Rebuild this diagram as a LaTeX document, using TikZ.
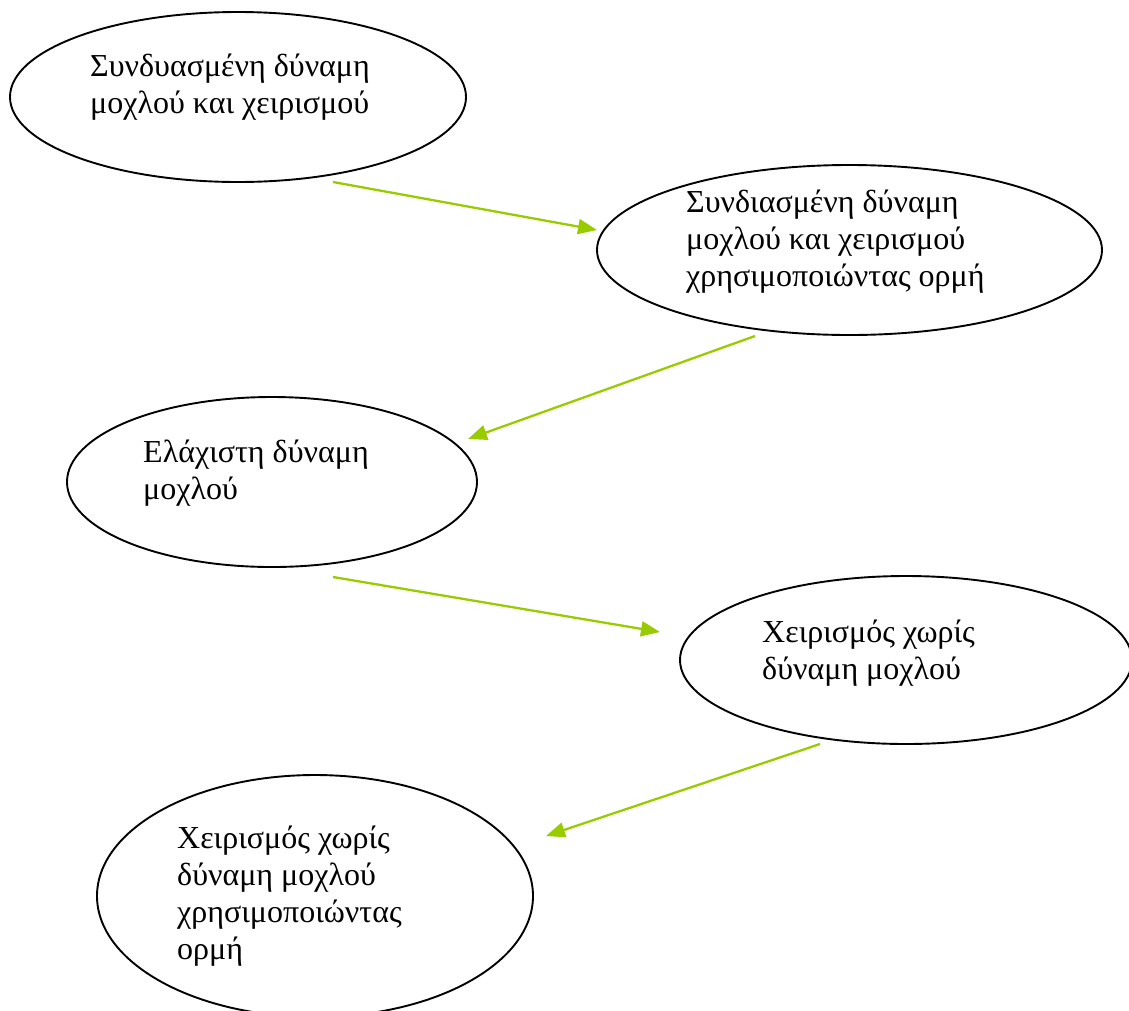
\documentclass[tikz,border=0pt]{standalone}
\usepackage{fontspec}
\setmainfont{Liberation Serif}
\usetikzlibrary{shapes.geometric,arrows.meta,calc}
\definecolor{leafgreen}{RGB}{153,204,0}
\begin{document}
\begin{tikzpicture}[x=1pt,y=-1pt,
  bubble/.style={ellipse,draw=black,line width=1.9pt,inner sep=0pt},
  bubbletext/.style={anchor=base west,inner sep=0pt,font=\fontsize{32}{37}\selectfont},
  flow/.style={draw=leafgreen,line width=2.3pt,-{Triangle[length=19pt,width=15pt]}}]
\useasboundingbox (0,0) rectangle (1129,1010);

% stages of the technique, drawn as ellipses
\node[bubble,minimum width=456pt,minimum height=170pt] (e1) at (238,97) {};
\node[bubble,minimum width=505pt,minimum height=170pt] (e2) at (849.5,250) {};
\node[bubble,minimum width=410pt,minimum height=170pt] (e3) at (272,482) {};
\node[bubble,minimum width=452pt,minimum height=168pt] (e4) at (906,660) {};
\node[bubble,minimum width=436pt,minimum height=242pt] (e5) at (315,896) {};

% their captions, set flush left
\node[bubbletext] (t1) at (90,76) {\begin{tabular}[t]{@{}l@{}}Συνδυασμένη δύναμη\\ μοχλού και χειρισμού\end{tabular}};
\node[bubbletext] (t2) at (686,212) {\begin{tabular}[t]{@{}l@{}}Συνδιασμένη δύναμη\\ μοχλού και χειρισμού\\ χρησιμοποιώντας ορμή\end{tabular}};
\node[bubbletext] (t3) at (143,462) {\begin{tabular}[t]{@{}l@{}}Ελάχιστη δύναμη\\ μοχλού\end{tabular}};
\node[bubbletext] (t4) at (762,642) {\begin{tabular}[t]{@{}l@{}}Χειρισμός χωρίς\\ δύναμη μοχλού\end{tabular}};
\node[bubbletext] (t5) at (177,848) {\begin{tabular}[t]{@{}l@{}}Χειρισμός χωρίς\\ δύναμη μοχλού\\ χρησιμοποιώντας\\ ορμή\end{tabular}};

% connector ends, placed relative to the ellipses
\coordinate (a1s) at ($(e1.center)+(95,85)$);
\coordinate (a1e) at ($(e2.center)+(-252.5,-20)$);
\coordinate (a2s) at ($(e2.center)+(-94.5,86)$);
\coordinate (a2e) at ($(e3.center)+(196,-43)$);
\coordinate (a3s) at ($(e3.center)+(61,95)$);
\coordinate (a3e) at ($(e4.center)+(-246,-28)$);
\coordinate (a4s) at ($(e4.center)+(-86,84)$);
\coordinate (a4e) at ($(e5.center)+(231,-60)$);

% progression arrows
\draw[flow] (a1s) -- (a1e);
\draw[flow] (a2s) -- (a2e);
\draw[flow] (a3s) -- (a3e);
\draw[flow] (a4s) -- (a4e);
\end{tikzpicture}
\end{document}
